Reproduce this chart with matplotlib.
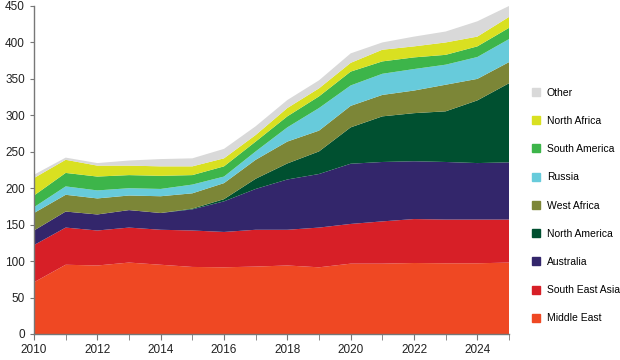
import matplotlib
matplotlib.use("Agg")
import matplotlib.pyplot as plt
from matplotlib.lines import Line2D
import numpy as np

plt.rcParams['font.family'] = ['Liberation Sans Narrow', 'Liberation Sans', 'DejaVu Sans']

years = list(range(2010, 2026))
series_names = ["Middle East", "South East Asia", "Australia", "North America",
                "West Africa", "Russia", "South America", "North Africa", "Other"]

# cumulative tops
middle_east_top   = [71, 95, 94, 98, 95, 92, 91.5, 92.5, 94, 91.5, 96.5, 96.5, 97.4, 97, 97, 98]
south_east_asia_top = [122, 146, 142, 146, 143, 142, 140, 143, 143, 146, 151, 154.5, 157.7, 157, 157, 157]
australia_top     = [142, 168, 164, 170, 166, 171, 182, 199, 212, 219.5, 233.6, 236, 237, 236, 234.5, 235.5]
north_america_top = [142, 168, 164, 170, 166, 172, 185, 213, 234, 250.5, 283.5, 298.6, 303, 305.5, 320.5, 344]
west_africa_top   = [166, 191, 186, 190, 189, 193, 207, 239, 264, 279, 313, 328, 334, 342, 350, 373]
russia_top        = [174, 202.5, 197, 200, 199, 205, 216, 250.5, 283.5, 310, 341, 357, 363.5, 369.5, 380, 404.6]
south_america_top = [190, 221, 216, 218, 217, 218, 230, 264, 298.6, 326, 360, 374, 379.5, 383, 394.6, 420]
north_africa_top  = [214, 239, 231, 231, 230, 230, 241, 273, 310, 337, 372, 390, 394.6, 400, 408, 435]
other_top         = [218.5, 242, 234.5, 238, 240, 241, 254, 285, 321, 348, 385, 400, 408, 415, 429, 450]

tops = [middle_east_top, south_east_asia_top, australia_top, north_america_top,
        west_africa_top, russia_top, south_america_top, north_africa_top, other_top]
values = []
prev = np.zeros(len(years))
for t in tops:
    t = np.array(t, dtype=float)
    values.append(np.maximum(t - prev, 0))
    prev = np.maximum(t, prev)

colors = ["#EF4823", "#D71F27", "#33266B", "#005030", "#7C8637",
          "#67CBDB", "#3DB54A", "#D9E021", "#D9D9D9"]

fig = plt.figure(figsize=(6.2, 3.6), dpi=100)
ax = fig.add_axes([34/620, 1-334/360, (509-34)/620, (334-6)/360])
ax.stackplot(years, *values, colors=colors, linewidth=0)

ax.set_xlim(2010, 2025)
ax.set_ylim(0, 450)
ax.set_xticks(range(2010, 2026, 2))
ax.set_xticks(range(2010, 2026), minor=True)
ax.set_yticks(range(0, 451, 50))
for s in ["top", "right"]:
    ax.spines[s].set_visible(False)
for s in ["left", "bottom"]:
    ax.spines[s].set_color("#777777")
    ax.spines[s].set_linewidth(1.0)
ax.tick_params(axis="both", which="both", colors="#777777", labelcolor="#222222",
               labelsize=8.5, direction="out")
ax.tick_params(axis="x", which="major", length=4)
ax.tick_params(axis="x", which="minor", length=4)
ax.tick_params(axis="y", length=3)

handles = [Line2D([0], [0], marker="s", linestyle="none", markersize=6,
                  markerfacecolor=c, markeredgecolor=c) for c in colors]
h = handles[::-1]
l = series_names[::-1]
fig.legend(h, l, loc="center left", bbox_to_anchor=(528/620, 1-205.5/360),
           frameon=False, fontsize=7.5, labelspacing=1.75, handlelength=0.8,
           handletextpad=0.6, borderaxespad=0)

fig.savefig("out.png", dpi=100)
